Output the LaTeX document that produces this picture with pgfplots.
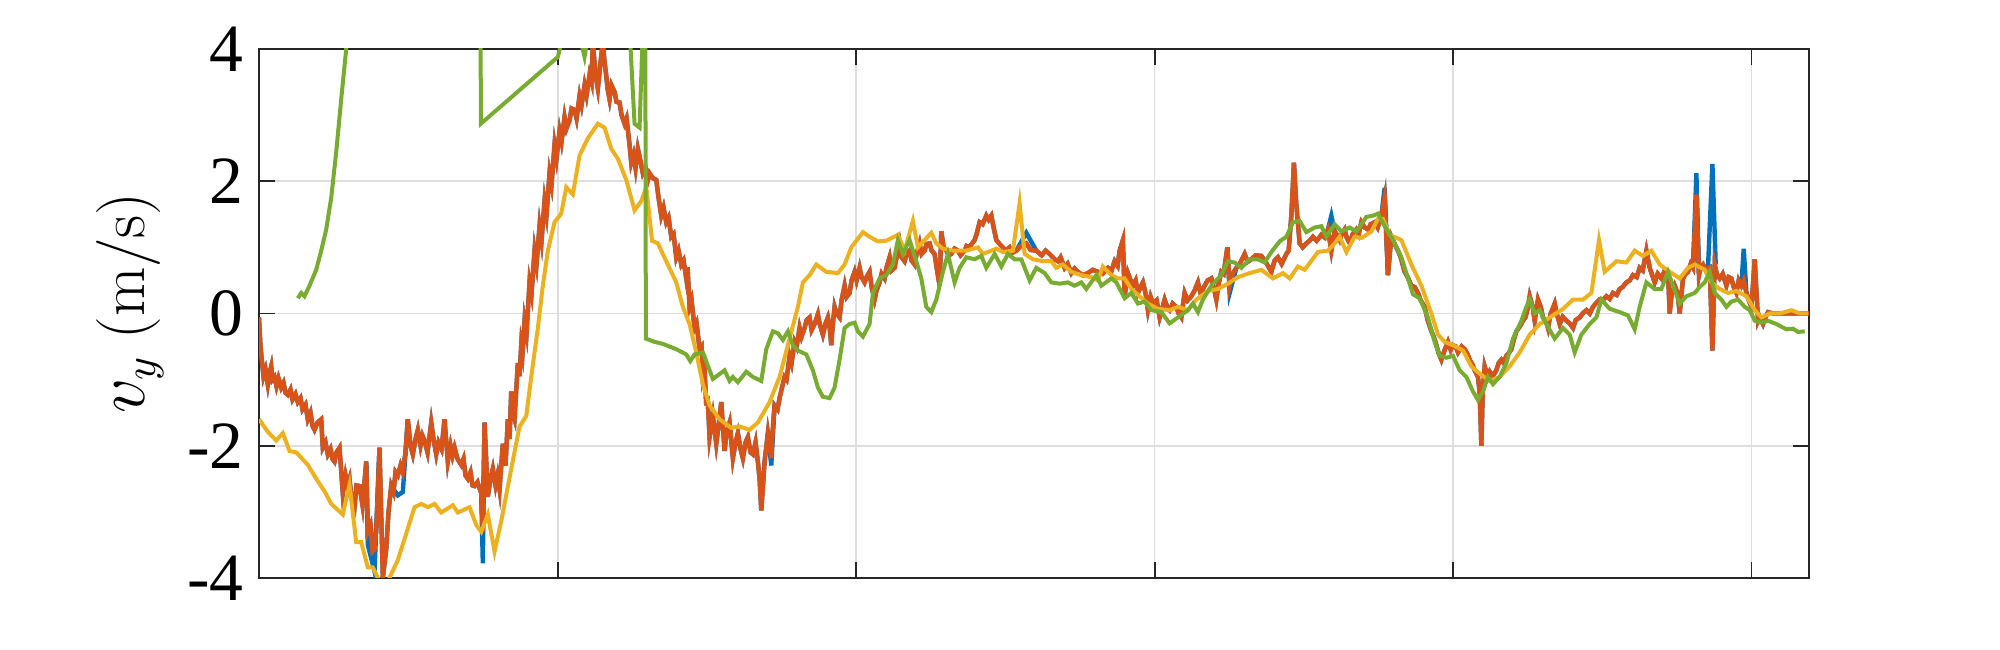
\documentclass[border=0pt]{standalone}
\usepackage{fontspec}
\setmainfont{Liberation Serif}
\usepackage{pgfplots}
\usepackage{pgfplotstable}
\pgfplotsset{compat=1.18}
\usetikzlibrary{calc}
\definecolor{mblue}{rgb}{0,0.447,0.741}
\definecolor{morange}{rgb}{0.85,0.325,0.098}
\definecolor{myellow}{rgb}{0.929,0.694,0.125}
\definecolor{mgreen}{rgb}{0.466,0.674,0.188}
\definecolor{axgray}{rgb}{0.15,0.15,0.15}
% measured signal (orange); the blue estimate coincides with it except at the spikes listed below
\pgfplotstableread{
x y
259.5 -0.06
261 -0.5
262.3 -0.70
264 -0.95
266 -0.85
268.3 -1.07
270 -0.9
271.7 -0.80
273 -1.0
275 -0.96
277 -1.1
279 -0.98
281.7 -1.12
284 -1.05
286 -1.2
288.3 -1.23
291 -1.15
293 -1.3
296 -1.22
298.3 -1.34
301 -1.28
303 -1.45
306 -1.38
308.3 -1.60
311 -1.5
313 -1.7
315 -1.76
318 -1.65
321.7 -1.60
323.3 -2.03
326 -1.95
328.3 -2.13
331 -2.05
333 -2.2
335 -2.24
337 -2.1
340 -2.03
343.3 -2.72
346 -2.45
348 -2.6
350 -2.5
352 -2.8
355 -2.93
357 -2.6
360 -2.61
363 -2.9
366.7 -2.24
368.3 -3.30
371 -3.2
373 -3.6
375 -3.57
377 -3.2
380 -2.03
383.3 -4.0
386.7 -3.57
389 -3.0
391.7 -2.61
394 -2.7
396 -2.4
398.3 -2.45
401 -2.3
403.3 -2.4
406 -2.1
408.3 -1.60
411 -2.0
413.3 -2.13
416 -1.9
418.3 -1.76
421 -2.0
423 -1.85
425 -1.92
428 -2.1
431.7 -1.65
434 -1.9
436.7 -2.13
439 -1.95
442 -2.05
445 -1.60
448.3 -2.24
451 -2.0
453 -2.15
455 -2.03
458 -2.2
461.7 -2.29
464 -2.2
466 -2.45
468.3 -2.5
471 -2.4
473 -2.6
475 -2.61
478 -2.55
481.7 -2.72
483.3 -3.3
485 -1.65
488.3 -2.77
491 -2.5
493.3 -2.35
496 -2.6
498 -2.45
500 -2.66
503.3 -1.97
506 -2.3
508.3 -1.60
510 -1.9
511.7 -1.18
513 -1.5
515 -1.60
518.3 -0.75
520 -0.95
521.7 -0.48
523 -0.6
525 -0.11
527 -0.3
530 0.47
532 0.3
535 0.95
537 0.75
540 1.32
542 1.1
545 1.70
547 1.5
550 2.12
552 1.95
555 2.55
557 2.35
560 2.76
562 2.6
565 2.97
567 2.8
570 2.92
572 3.1
575 3.08
577 2.95
580 3.29
582 3.15
585 3.45
587 3.3
590 3.61
592 3.5
593.3 4.1
596 3.6
598.3 3.4
601 3.8
603.3 4.1
605 3.8
606.7 3.6
608 3.4
610 3.24
612 3.45
615 3.35
617 3.2
620 3.19
622 3.0
625 2.87
627 2.95
630 2.55
631.7 2.28
634 2.4
636 2.2
638.3 2.49
641 2.3
643.3 2.12
646 2.2
648.3 2.02
650 2.12
653 2.05
656.7 2.02
659 1.75
661.7 1.48
664 1.6
666.7 1.38
669 1.45
671.7 1.16
674 1.2
676.7 0.85
679 0.95
681.7 0.74
684 0.8
686.7 0.53
688 0.7
690 0.10
692 0.2
695 -0.22
697 -0.15
700 -0.54
702 -0.5
703.3 -0.96
705 -0.85
706.7 -1.39
708 -1.25
710 -1.87
713.3 -1.55
716.7 -1.97
719 -1.7
721.7 -1.34
725 -2.08
727 -1.8
730 -1.65
733.3 -2.19
736 -1.95
738.3 -1.81
741 -2.05
743.3 -2.19
746 -1.95
748.3 -1.87
751 -2.1
753.3 -2.13
756 -1.95
758.3 -2.24
760 -2.5
761.7 -2.98
763 -2.7
765 -2.24
768.3 -1.81
771.7 -2.19
773 -1.8
775 -1.39
778 -1.45
780 -1.28
782 -1.15
785 -0.96
787 -1.0
790 -0.64
792 -0.75
795 -0.43
797 -0.5
800 -0.22
802 -0.35
805 -0.22
807 -0.1
810 -0.06
812 -0.25
815 -0.16
818.3 -0.01
820 -0.15
823.3 -0.32
826 -0.15
828.3 -0.06
830 -0.2
831.7 -0.48
833 -0.2
835 0.10
837 0.0
840 -0.06
842 0.2
845 0.42
847 0.25
850 0.31
852 0.5
855 0.63
857 0.5
860 0.69
862 0.55
865 0.47
867 0.55
870 0.63
872 0.4
875 0.21
877 0.35
880 0.47
882 0.6
885 0.53
887 0.7
890 0.85
892 0.65
895 0.69
897 0.85
900 1.06
902 0.85
905 0.79
907 0.9
910 0.95
912 0.8
915 0.74
917 0.9
920 1.06
922 0.9
925 0.95
927 1.05
930 1.06
932 0.95
935 0.90
937 0.7
940 0.42
941.7 1.24
944 1.0
946.7 0.95
949 0.88
951.7 0.90
955 0.98
958.3 0.95
961 0.88
965 0.95
967 1.02
970 1.0
972 1.05
975 1.11
977 1.2
980 1.38
983 1.35
986.7 1.48
989 1.42
991.7 1.48
994 1.3
996.7 1.11
1000 1.05
1003.3 1.0
1006 0.95
1010 1.0
1013 0.92
1016.7 0.95
1021 1.02
1026.7 1.06
1031 0.96
1036.7 0.95
1042 0.88
1046 0.95
1050 0.90
1055 0.82
1058.3 0.79
1061 0.85
1065 0.69
1068 0.75
1071.7 0.61
1075 0.68
1078.3 0.63
1083 0.58
1088.3 0.61
1093 0.66
1098.3 0.63
1103 0.6
1108.3 0.69
1112 0.65
1115 0.79
1118 0.72
1120 0.95
1123.3 1.11
1125 0.26
1128.3 0.61
1131 0.5
1133.3 0.42
1136 0.5
1138.3 0.31
1141 0.4
1143.3 0.47
1146 0.3
1148.3 0.05
1151 0.25
1153.3 0.15
1157 0.2
1160 -0.06
1163 0.1
1165 0.21
1168 0.08
1170 0.05
1173 0.15
1176.7 0.10
1179 0.0
1181.7 -0.06
1183 0.1
1185 0.31
1188 0.2
1191.7 0.26
1195 0.35
1198.3 0.47
1201 0.3
1205 0.42
1208 0.5
1211.7 0.53
1214 0.4
1216.7 0.21
1219 0.45
1221.7 0.63
1224 0.6
1227.7 1.0
1230 0.42
1233 0.6
1236.7 0.69
1240 0.75
1245 0.90
1248 0.78
1251.7 0.82
1256 0.88
1261.7 0.87
1266 0.78
1271.7 0.63
1275 0.8
1278.3 0.85
1282 0.75
1286.7 0.90
1289 0.95
1291.7 1.48
1294.3 2.28
1296.7 1.64
1300 1.06
1303 1.0
1306.7 1.06
1310 1.1
1313.3 1.16
1317 1.1
1321.7 1.19
1325 1.15
1328.3 1.27
1331.7 0.95
1335 1.24
1337 1.2
1340 1.11
1342 1.2
1345 1.27
1347 1.15
1350 1.06
1353 1.2
1356.7 1.27
1359 1.2
1361.7 1.38
1365 1.3
1368.3 1.27
1371 1.35
1375 1.38
1378 1.3
1381.7 1.48
1385 1.75
1388.3 0.58
1391.7 1.16
1395 1.05
1398.3 0.95
1401 0.85
1405 0.63
1408 0.55
1411.7 0.42
1415 0.4
1418.3 0.31
1421 0.2
1425 0.10
1428 -0.1
1431.7 -0.27
1434 -0.35
1436.7 -0.48
1439 -0.6
1441.7 -0.70
1445 -0.55
1448.3 -0.43
1451 -0.55
1453.3 -0.48
1456 -0.5
1458.3 -0.59
1462 -0.5
1465 -0.54
1468 -0.62
1470 -0.70
1473 -0.78
1475 -0.86
1478.3 -0.96
1480 -1.2
1481.7 -2.0
1483 -1.2
1485 -0.80
1488 -0.95
1490 -0.88
1493 -0.95
1496.7 -0.86
1499 -0.75
1501.7 -0.70
1504 -0.75
1506.7 -0.64
1509 -0.6
1511.7 -0.54
1514 -0.4
1516.7 -0.27
1520 -0.2
1523.3 -0.11
1526 -0.05
1528.3 0.10
1530 0.26
1533 0.1
1535 -0.11
1538.3 0.21
1541 0.1
1543.3 -0.06
1546 -0.1
1548.3 -0.22
1551 0.0
1555 0.15
1557 0.0
1560 -0.16
1563 -0.05
1566.7 -0.11
1570 -0.15
1573.3 -0.22
1576 -0.1
1580 -0.06
1583 0.0
1586.7 0.05
1590 0.0
1593.3 0.10
1596 0.15
1600 0.21
1603 0.2
1606.7 0.26
1610 0.22
1613.3 0.31
1617 0.28
1620 0.37
1623 0.4
1626.7 0.47
1630 0.5
1633.3 0.58
1637 0.55
1640 0.69
1643 0.65
1646.7 0.95
1650 0.69
1652 0.6
1655 0.47
1658 0.6
1661.7 0.53
1665 0.65
1668.3 0.63
1670 0.0
1672 0.3
1675 0.42
1678 0.3
1680 0.0
1683.3 0.53
1686 0.6
1688.3 0.63
1691 0.75
1693.3 0.69
1696.7 1.80
1699.3 0.58
1701 0.7
1703.3 0.74
1706 0.65
1708.3 0.69
1710 0.7
1712.7 -0.56
1715 0.74
1717 0.6
1720 0.53
1723 0.6
1726.7 0.42
1729 0.55
1731.7 0.53
1734 0.4
1736.7 0.31
1739 0.5
1741.7 0.42
1744 0.5
1746.7 0.31
1749 0.2
1751.7 0.10
1755 0.82
1758.3 -0.11
1760 -0.05
1763.3 -0.16
1766 -0.05
1768.3 0.02
1773.3 0.0
1809.3 0.0
}\orangedata
\pgfplotstableread{
x y
259.5 -1.60
268.3 -1.79
276.7 -1.92
283.3 -1.81
290 -2.08
296.7 -2.10
308.3 -2.29
316.7 -2.5
325 -2.69
331.7 -2.88
343.3 -3.04
350 -2.59
356.7 -3.46
361.7 -3.46
368.3 -3.84
373.3 -3.84
380 -4.05
388.3 -4.05
398.3 -3.73
405 -3.41
415 -2.93
421.7 -2.88
428.3 -2.93
435 -2.88
441.7 -3.01
453.3 -2.90
458.3 -3.01
470 -2.93
476.7 -3.20
481.7 -3.30
488.3 -3.04
495 -3.60
501.7 -3.14
511.7 -2.35
520 -1.71
526.7 -1.55
531.7 -0.96
538.3 -0.22
543.3 0.42
548.3 0.95
555 1.38
561.7 1.51
566.7 1.91
573.3 1.80
580 2.39
588.3 2.65
598.3 2.87
605 2.81
611.7 2.49
618.3 2.34
626.7 2.02
635 1.56
641.7 1.70
646.7 1.91
652.5 1.10
658.3 1.06
666.7 0.79
676.7 0.47
683.3 0.10
690 -0.16
696.7 -0.59
703.3 -1.07
710 -1.39
720 -1.60
731.7 -1.73
740 -1.71
750 -1.76
758.3 -1.65
770 -1.34
780 -0.96
790 -0.38
798.3 0.10
803.3 0.47
810 0.58
816.7 0.74
826.7 0.63
838.3 0.61
845 0.74
851.7 1.0
863.3 1.23
870 1.16
878.3 1.09
886.7 1.10
898.3 1.19
905 0.95
913.3 1.40
918.3 1.0
925 1.11
931.7 1.22
936.7 1.06
943.3 0.98
953.3 0.95
966.7 0.95
978.3 1.0
983.3 0.90
996.7 0.98
1003.3 0.93
1013.3 0.95
1020 1.67
1025 0.90
1033.3 0.82
1043.3 0.79
1051.7 0.79
1056.7 0.69
1063.3 0.74
1071.7 0.63
1081.7 0.58
1091.7 0.55
1098.3 0.50
1103.3 0.71
1111.7 0.58
1118.3 0.53
1125 0.53
1131.7 0.37
1140 0.26
1148.3 0.15
1158.3 0.07
1170 0.05
1178.3 0.10
1188.3 0.05
1196.7 0.21
1208.3 0.34
1218.3 0.37
1228.3 0.45
1238.3 0.55
1250 0.61
1261.7 0.66
1273.3 0.53
1283.3 0.61
1290 0.53
1298.3 0.71
1305 0.66
1318.3 0.93
1328.3 0.95
1335 1.06
1340 1.16
1346.7 0.93
1355 1.16
1361.7 1.14
1371.7 1.24
1378.3 1.43
1383.3 1.43
1390 1.19
1401.7 1.11
1411.7 0.74
1421.7 0.42
1431.7 0.0
1438.3 -0.32
1445 -0.43
1453.3 -0.48
1463.3 -0.56
1471.7 -0.80
1480 -0.91
1490 -1.02
1500 -0.96
1510 -0.80
1520 -0.59
1530 -0.32
1540 -0.16
1553.3 -0.03
1563.3 0.07
1573.3 0.21
1583.3 0.21
1591.7 0.31
1599.3 1.11
1605 0.63
1616.7 0.79
1626.7 0.77
1635 0.95
1643.3 0.87
1651.7 0.95
1660 0.74
1670 0.63
1680 0.53
1688.3 0.69
1695 0.74
1705 0.66
1711.7 0.47
1720 0.37
1728.3 0.31
1736.7 0.34
1746.7 0.26
1755 0.05
1761.7 -0.06
1770 0.0
1780 0.0
1791.7 0.05
1800 0.0
1808.3 0.0
}\yellowdata
\pgfplotstableread{
x y
298.3 0.23
301.7 0.31
305 0.26
310 0.42
316.7 0.66
321.7 0.95
326.7 1.27
331.7 1.75
336.7 2.44
341.7 3.24
346.7 4.0
349.3 4.6
400 7
480.8 7
481.3 2.87
558.3 3.88
565 4.3
580 4.2
585 3.88
588.3 4.2
630 4.3
635 2.87
640 2.81
643.3 4.3
645.5 7
646.3 -0.38
655 -0.43
663.3 -0.46
676.7 -0.54
686.7 -0.62
690.7 -0.72
695 -0.62
703.3 -0.59
713.3 -0.99
725 -0.86
730 -1.02
733.3 -0.96
738.3 -1.04
746.7 -0.88
753.3 -0.96
761.7 -1.02
766.7 -0.54
773.3 -0.27
778.3 -0.30
783.3 -0.40
788.3 -0.27
793.3 -0.48
798.3 -0.56
806.7 -0.62
813.3 -0.86
818.3 -1.12
823.3 -1.26
830 -1.28
835 -1.12
840 -0.70
845 -0.22
850 -0.16
855 -0.14
858.3 -0.27
863.3 -0.35
870 -0.16
873.3 0.31
880 0.53
886.7 0.58
893.3 0.74
898.3 1.11
903.3 0.90
910 1.11
916.7 0.79
921.7 0.53
926.7 0.10
931.7 0.02
936.7 0.21
943.3 0.63
948.3 0.90
955 0.47
960 0.69
966.7 0.85
975 0.82
981.7 0.87
986.7 0.69
995 0.90
1001.7 0.71
1008.3 0.90
1015 0.82
1021.7 0.82
1030 0.50
1036.7 0.69
1045 0.61
1051.7 0.47
1060 0.45
1068.3 0.47
1075 0.42
1081.7 0.47
1086.7 0.37
1096.7 0.58
1101.7 0.42
1111.7 0.53
1116.7 0.47
1125 0.23
1131.7 0.31
1138.3 0.15
1145 0.18
1151.7 0.05
1161.7 0.02
1170 -0.15
1178.3 -0.06
1188.3 0.05
1193.3 0.15
1198.3 0.02
1203.3 0.21
1211.7 0.42
1221.7 0.58
1228.3 0.79
1235 0.77
1241.7 0.69
1250 0.82
1258.3 0.82
1265 0.77
1271.7 0.93
1280 1.09
1286.7 1.16
1293.3 1.38
1300 1.40
1306.7 1.23
1315 1.30
1321.7 1.32
1326.7 1.16
1335 1.35
1341.7 1.24
1350 1.30
1356.7 1.24
1366.7 1.46
1373.3 1.48
1378.3 1.51
1385 1.32
1393.3 1.11
1401.7 0.85
1408.3 0.53
1413.3 0.29
1420 0.23
1428.3 -0.06
1435 -0.43
1440 -0.64
1446.7 -0.67
1453.3 -0.64
1460 -0.86
1466.7 -0.96
1473.3 -1.18
1478.3 -1.31
1483.3 -1.18
1488.3 -0.96
1493.3 -1.07
1500 -0.96
1506.7 -0.75
1513.3 -0.38
1521.7 -0.11
1526.7 0.10
1530 0.21
1535 0.0
1540 0.05
1546.7 -0.16
1555 -0.38
1563.3 -0.22
1570 -0.32
1575 -0.59
1581.7 -0.32
1590 -0.16
1596.7 -0.06
1601.7 0.21
1610 0.07
1620 0.02
1628.3 -0.03
1635 -0.24
1640 0.10
1646.7 0.47
1655 0.37
1661.7 0.37
1668.3 0.63
1673.3 0.42
1680 0.15
1686.7 0.26
1695 0.31
1700 0.40
1705 0.47
1710 0.63
1715 0.31
1721.7 0.21
1726.7 0.10
1731.7 0.18
1738.3 0.21
1745 0.10
1750 0.05
1755 -0.11
1761.7 -0.14
1768.3 -0.11
1776.7 -0.16
1786.7 -0.24
1793.3 -0.23
1798.3 -0.28
1805 -0.27
}\greendata
\begin{document}
\begin{tikzpicture}
\begin{axis}[
  scale only axis,
  width=387.5pt, height=132.25pt,
  xmin=259.5, xmax=1809.3,
  ymin=-4, ymax=4,
  xtick={558.3,856.65,1155,1453.35,1751.7},
  xticklabels={},
  ytick={-4,-2,0,2,4},
  yticklabels={-4,-2,0,2,4},
  /pgf/number format/assume math mode=true,
  tick label style={font=\fontsize{16.9}{19}\selectfont},
  yticklabel style={xshift=-0.3pt},
  grid=major,
  major grid style={color=black!13, line width=0.4pt},
  axis line style={color=axgray, line width=0.45pt},
  major tick style={color=axgray, line width=0.45pt},
  major tick length=4pt,
  tick pos=both, tick align=inside,
  ylabel={$v_y$ {\fontfamily{lmr}\selectfont (m/s)}},
  ylabel style={font=\fontsize{16}{19}\selectfont, at={(axis description cs:-0.0832,0.52)}, anchor=center},
  clip=true,
]
% blue: same samples as the orange signal
\addplot[mblue, line width=1.1pt] table[x=x,y=y] {\orangedata};
% blue: places where it departs from the orange signal
\addplot[mblue, line width=1.1pt] coordinates {(366.7,-2.24) (368.3,-3.5) (375,-3.9) (380,-2.03)};
\addplot[mblue, line width=1.1pt] coordinates {(391.7,-2.61) (398.3,-2.75) (403.3,-2.7) (408.3,-1.6)};
\addplot[mblue, line width=1.1pt] coordinates {(481.7,-2.72) (483.3,-3.78) (485,-1.65)};
\addplot[mblue, line width=1.1pt] coordinates {(768.3,-1.81) (771.7,-2.3) (775,-1.39)};
\addplot[mblue, line width=1.1pt] coordinates {(1016.7,0.95) (1026.7,1.22) (1036.7,0.95)};
\addplot[mblue, line width=1.1pt] coordinates {(1227.7,1.0) (1230,0.31) (1236.7,0.69)};
\addplot[mblue, line width=1.1pt] coordinates {(1328.3,1.27) (1331.7,1.48) (1335,1.24)};
\addplot[mblue, line width=1.1pt] coordinates {(1381.7,1.48) (1385,1.9) (1388.3,0.58)};
\addplot[mblue, line width=1.1pt] coordinates {(1693.3,0.69) (1696.7,2.12) (1699.3,0.58)};
\addplot[mblue, line width=1.1pt] coordinates {(1708.3,0.69) (1712.7,2.26) (1716,0.74)};
\addplot[mblue, line width=1.1pt] coordinates {(1741.7,0.42) (1744,0.98) (1746.7,0.31)};
% orange
\addplot[morange, line width=1.1pt] table[x=x,y=y] {\orangedata};
% yellow
\addplot[myellow, line width=1.0pt] table[x=x,y=y] {\yellowdata};
% green
\addplot[mgreen, line width=1.0pt] table[x=x,y=y] {\greendata};
\end{axis}
\pgfresetboundingbox
\path ($(current axis.south west)+(-64.75pt,-18pt)$) rectangle ($(current axis.north east)+(47.75pt,12.25pt)$);
\end{tikzpicture}
\end{document}
